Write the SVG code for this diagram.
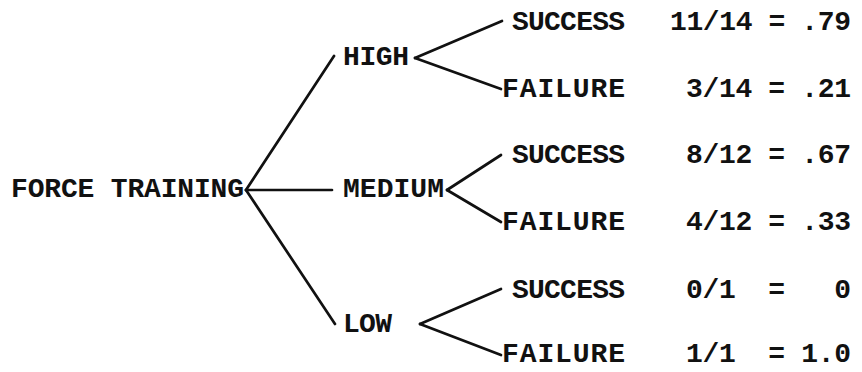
<svg xmlns="http://www.w3.org/2000/svg" width="862" height="372" viewBox="0 0 862 372">
<style>
text{font-family:"Liberation Mono","Courier New",monospace;font-size:28px;font-weight:bold;fill:#111}
.c line{stroke:#111;stroke-width:2.7;stroke-linecap:round}
</style>
<rect width="862" height="372" fill="#fff"/>
<g class="c" id="connectors">
<line x1="246" y1="190" x2="334" y2="56"/>
<line x1="246" y1="190" x2="332" y2="190"/>
<line x1="246" y1="190" x2="335" y2="324"/>
<line x1="415" y1="58" x2="502" y2="21"/>
<line x1="415" y1="58" x2="501" y2="89"/>
<line x1="447" y1="190" x2="501" y2="155"/>
<line x1="447" y1="190" x2="501" y2="222"/>
<line x1="420" y1="324" x2="501" y2="289"/>
<line x1="420" y1="324" x2="501" y2="355"/>
</g>
<g id="root"><text x="11" y="197" textLength="233">FORCE TRAINING</text></g>
<g id="high"><text x="343" y="65" textLength="66">HIGH</text></g>
<g id="medium"><text x="343" y="197" textLength="101">MEDIUM</text></g>
<g id="low"><text x="343" y="332" textLength="49">LOW</text></g>
<g id="high-success"><text x="512" y="30" textLength="113">SUCCESS</text><text x="670" y="30" textLength="181" xml:space="preserve">11/14 = .79</text></g>
<g id="high-failure"><text x="502" y="97" textLength="123">FAILURE</text><text x="686" y="97" textLength="165" xml:space="preserve">3/14 = .21</text></g>
<g id="medium-success"><text x="512" y="163" textLength="113">SUCCESS</text><text x="686" y="163" textLength="165" xml:space="preserve">8/12 = .67</text></g>
<g id="medium-failure"><text x="502" y="230" textLength="123">FAILURE</text><text x="686" y="230" textLength="165" xml:space="preserve">4/12 = .33</text></g>
<g id="low-success"><text x="512" y="298" textLength="113">SUCCESS</text><text x="686" y="298" textLength="165" xml:space="preserve">0/1  =   0</text></g>
<g id="low-failure"><text x="502" y="362" textLength="123">FAILURE</text><text x="686" y="362" textLength="165" xml:space="preserve">1/1  = 1.0</text></g>
</svg>
